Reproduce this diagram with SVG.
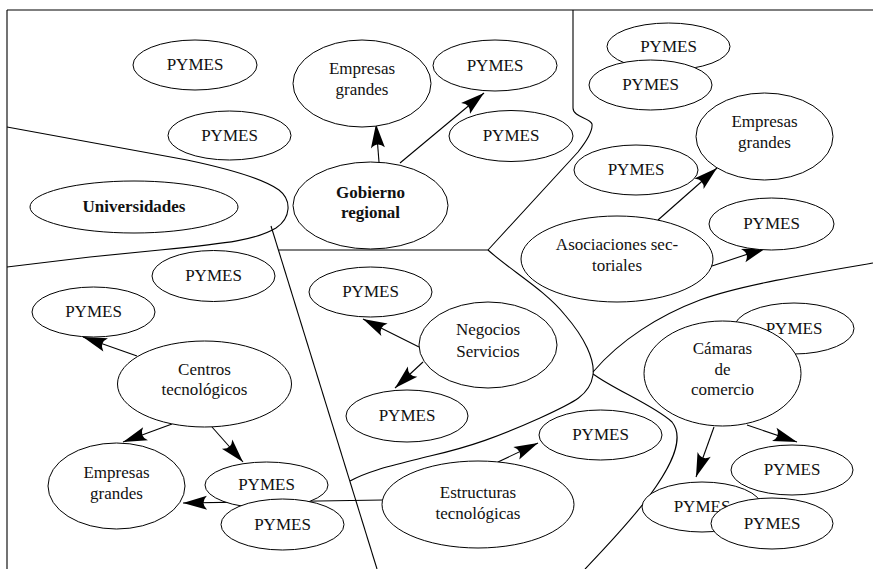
<svg xmlns="http://www.w3.org/2000/svg" width="873" height="569" viewBox="0 0 873 569">
<style>
.bg{fill:#fff}
.b{fill:none;stroke:#000;stroke-width:1.1}
.c{fill:none;stroke:#000;stroke-width:1.1;marker-end:url(#ah)}
.n ellipse{fill:#fff;stroke:#000;stroke-width:1}
.n text{font-size:17px;fill:#111;text-anchor:middle}
.n text.bold{font-weight:bold}
</style>
<defs>
<marker id="ah" markerUnits="userSpaceOnUse" viewBox="-26 -10 28 20" markerWidth="28" markerHeight="20" refX="0" refY="0" orient="auto">
<path d="M0,0 L-24,-7 Q-17,0 -24,7 Z" fill="#000"/>
</marker>
</defs>
<rect class="bg" x="0" y="0" width="873" height="569"/>
<g id="boundaries">
<path class="b" d="M7,10 L873,10 M7,10 L7,569"/>
<path class="b" d="M7,127 L187,160 C225,168 262,178 279,190 C292,200 291,218 276,228 C256,240 230,243 160,250 L90,257 L7,267"/>
<path class="b" d="M271,226 L377,569"/>
<path class="b" d="M279,250 L488,250"/>
<path class="b" d="M573,10 L573,108 C573,117 590,118 592,124 C593,132 586,142 578,152 L488,250"/>
<path class="b" d="M488,250 C510,270 545,290 565,315 C585,338 595,360 593,375 C590,395 575,402 540,418 C500,436 470,447 430,456 C395,465 370,470 350,481"/>
<path class="b" d="M873,263 C820,272 740,285 700,300 C660,315 620,340 593,372"/>
<path class="b" d="M593,374 C615,390 655,406 672,422 C685,438 672,465 650,495 C630,522 605,548 585,569"/>
</g>
<g id="connectors">
<path class="c" d="M379,162 L376,124"/>
<path class="c" d="M400,163 L484,93"/>
<path class="c" d="M658,220 L717,168"/>
<path class="c" d="M712,266 L766,248"/>
<path class="c" d="M137,356 L83,337"/>
<path class="c" d="M172,424 L123,442"/>
<path class="c" d="M212,427 L243,462"/>
<path class="c" d="M419,347 L363,319"/>
<path class="c" d="M423,362 L395,388"/>
<path class="c" d="M498,462 L538,443"/>
<path class="c" d="M383,500 L183,503"/>
<path class="c" d="M747,425 L797,442"/>
<path class="c" d="M714,427 L696,477"/>
</g>
<g id="nodes" font-family="'Liberation Serif', 'DejaVu Serif', serif">
<g id="p1" class="n"><ellipse cx="195" cy="65" rx="62" ry="25"/><text x="195" y="70">PYMES</text></g>
<g id="p2" class="n"><ellipse cx="229.5" cy="135.5" rx="61.5" ry="24.5"/><text x="229.5" y="140.5">PYMES</text></g>
<g id="universidades" class="n"><ellipse cx="134" cy="207" rx="104" ry="26"/><text class="bold" x="134" y="212">Universidades</text></g>
<g id="eg1" class="n"><ellipse cx="362" cy="83.5" rx="69" ry="43.5"/><text x="362" y="74">Empresas</text><text x="362" y="95">grandes</text></g>
<g id="p3" class="n"><ellipse cx="495" cy="65.5" rx="62" ry="25.5"/><text x="495" y="70.5">PYMES</text></g>
<g id="p4" class="n"><ellipse cx="511" cy="136" rx="62" ry="25.5"/><text x="511" y="141">PYMES</text></g>
<g id="gobierno" class="n"><ellipse cx="370.5" cy="205.5" rx="77.5" ry="43.5"/><text class="bold" x="370.5" y="198">Gobierno</text><text class="bold" x="370.5" y="218">regional</text></g>
<g id="p5" class="n"><ellipse cx="668.5" cy="46.5" rx="61.5" ry="23.5"/><text x="668.5" y="51.5">PYMES</text></g>
<g id="p6" class="n"><ellipse cx="650.5" cy="85" rx="61.5" ry="25"/><text x="650.5" y="90">PYMES</text></g>
<g id="eg2" class="n"><ellipse cx="764.5" cy="136.5" rx="68.5" ry="43.5"/><text x="764.5" y="127">Empresas</text><text x="764.5" y="148">grandes</text></g>
<g id="p7" class="n"><ellipse cx="636" cy="170" rx="62" ry="25"/><text x="636" y="175">PYMES</text></g>
<g id="p8" class="n"><ellipse cx="771.5" cy="224" rx="62.5" ry="26"/><text x="771.5" y="229">PYMES</text></g>
<g id="asociaciones" class="n"><ellipse cx="617" cy="259" rx="96" ry="43"/><text x="617" y="250">Asociaciones sec-</text><text x="617" y="271">toriales</text></g>
<g id="p9" class="n"><ellipse cx="213.5" cy="276" rx="61.5" ry="25.5"/><text x="213.5" y="281">PYMES</text></g>
<g id="p10" class="n"><ellipse cx="93.5" cy="312" rx="61.5" ry="25"/><text x="93.5" y="317">PYMES</text></g>
<g id="centros" class="n"><ellipse cx="204.5" cy="384" rx="87" ry="43"/><text x="204.5" y="375">Centros</text><text x="204.5" y="395">tecnológicos</text></g>
<g id="eg3" class="n"><ellipse cx="116.5" cy="486" rx="68.5" ry="43"/><text x="116.5" y="478">Empresas</text><text x="116.5" y="499">grandes</text></g>
<g id="p11" class="n"><ellipse cx="266.5" cy="485" rx="61.5" ry="23"/><text x="266.5" y="490">PYMES</text></g>
<g id="p12" class="n"><ellipse cx="282.5" cy="524.5" rx="61.5" ry="25.5"/><text x="282.5" y="529.5">PYMES</text></g>
<g id="p13" class="n"><ellipse cx="370.5" cy="292" rx="61.5" ry="25"/><text x="370.5" y="297">PYMES</text></g>
<g id="negocios" class="n"><ellipse cx="488" cy="345" rx="69" ry="43"/><text x="488" y="335">Negocios</text><text x="488" y="356.5">Servicios</text></g>
<g id="p14" class="n"><ellipse cx="407" cy="416" rx="61" ry="26"/><text x="407" y="421">PYMES</text></g>
<g id="estructuras" class="n"><ellipse cx="478" cy="504.5" rx="96" ry="43.5"/><text x="478" y="498">Estructuras</text><text x="478" y="518.5">tecnológicas</text></g>
<g id="p15" class="n"><ellipse cx="600.5" cy="435" rx="61.5" ry="25"/><text x="600.5" y="440">PYMES</text></g>
<g id="p16" class="n"><ellipse cx="794" cy="328.5" rx="60" ry="25.5"/><text x="794" y="333.5">PYMES</text></g>
<g id="camaras" class="n"><ellipse cx="722.5" cy="373.5" rx="78.5" ry="52.5"/><text x="722.5" y="354">Cámaras</text><text x="722.5" y="375">de</text><text x="722.5" y="395">comercio</text></g>
<g id="p17" class="n"><ellipse cx="792" cy="470" rx="61" ry="25"/><text x="792" y="475">PYMES</text></g>
<g id="p18" class="n"><ellipse cx="702" cy="507" rx="60" ry="25"/><text x="702" y="512">PYMES</text></g>
<g id="p19" class="n"><ellipse cx="772" cy="523.5" rx="61" ry="25.5"/><text x="772" y="528.5">PYMES</text></g>
</g>
</svg>
